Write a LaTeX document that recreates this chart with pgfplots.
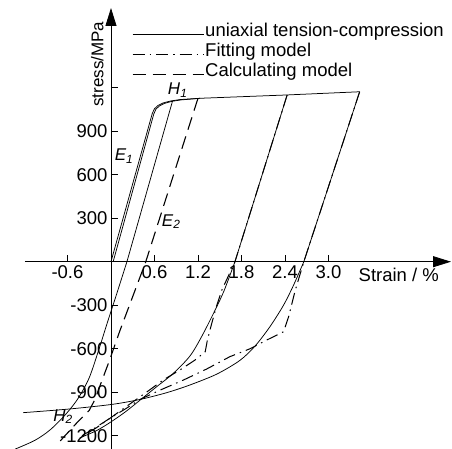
\documentclass[border=0pt]{standalone}
\usepackage{fontspec}
\setmainfont{Liberation Sans}
\usepackage{pgfplots}
\pgfplotsset{compat=1.18}
\usetikzlibrary{arrows.meta}
\newcommand\fs{\fontsize{18.5}{22}\selectfont}
\newcommand\fl{\fontsize{17}{20}\selectfont}
\begin{document}
\begin{tikzpicture}
\begin{axis}[
  scale only axis, width=426pt, height=441pt,
  xmin=-1.186, xmax=4.690, ymin=-1291.7, ymax=1749.7,
  axis lines=middle,
  axis line style={line width=0.8pt, -{Triangle[length=18pt,width=11pt]}},
  clip=false,
  xtick={-0.6,0.6,1.2,1.8,2.4,3.0},
  xticklabels={-0.6,0.6,1.2,1.8,2.4,3.0},
  ytick={-1200,-900,-600,-300,300,600,900,1200},
  yticklabels={-1200,-900,-600,-300,300,600,900,{}},
  tick align=inside, major tick length=7pt,
  tick style={black, line width=0.8pt},
  ticklabel style={font=\fs},
  legend style={draw=none, fill=none, at={(0.251,0.969)}, anchor=north west,
    font=\fs, row sep=3pt, inner sep=0pt, nodes={inner sep=1pt}},
  legend cell align=left,
  legend image code/.code={\path (0pt,-7pt) (0pt,7pt); \draw[#1] (0pt,-4.5pt) -- (71pt,-4.5pt);},
  sol/.style={black, line width=0.75pt, solid},
  fit/.style={black, line width=1.0pt, dash pattern=on 12pt off 5pt on 1.5pt off 5pt},
  calc/.style={black, line width=1.1pt, dash pattern=on 13pt off 7pt},
]
\addlegendimage{sol}
\addlegendentry{uniaxial tension-compression}
\addlegendimage{fit}
\addlegendentry{Fitting model}
\addlegendimage{calc}
\addlegendentry{Calculating model}

% uniaxial tension-compression
\addplot[sol, forget plot] coordinates {(0,0) (0.57,1023) (0.60,1055) (0.65,1078) (0.72,1095) (0.82,1108) (0.95,1118) (1.23,1127) (2.43,1150) (3.43,1172)};
\addplot[sol, forget plot] coordinates {(0.85,1110) (0.22,0)};
\addplot[sol, smooth, forget plot] coordinates {(0.22,0) (0.08,-220) (-0.05,-420) (-0.17,-610) (-0.30,-800) (-0.45,-940) (-0.62,-1050) (-0.84,-1160) (-1.05,-1232) (-1.32,-1292)};
\addplot[sol, forget plot] coordinates {(2.43,1150) (1.71,0)};
\addplot[sol, smooth, forget plot] coordinates {(1.71,0) (1.56,-200) (1.43,-340) (1.25,-517) (1.09,-650) (0.86,-770) (0.63,-862) (0.40,-955) (0.20,-1035) (-0.01,-1108) (-0.2,-1165) (-0.43,-1215)};
\addplot[sol, forget plot] coordinates {(3.43,1172) (2.66,0)};
\addplot[sol, smooth, forget plot] coordinates {(2.66,0) (2.52,-160) (2.38,-300) (2.19,-450) (1.99,-580) (1.78,-680) (1.46,-775) (1.09,-850) (0.77,-903) (0.40,-950) (0.0,-985) (-0.6,-1017) (-1.21,-1041)};

% fitting model
\addplot[sol, forget plot] coordinates {(0.03,0) (0.59,1018) (0.62,1052) (0.67,1075) (0.74,1092) (0.84,1106) (0.97,1116) (1.23,1127)};
\addplot[fit, forget plot] coordinates {(2.43,1150) (1.71,0) (1.53,-195) (1.46,-300) (1.39,-425) (1.33,-540) (1.30,-621) (1.16,-678) (0.95,-747) (0.72,-816) (0.49,-900) (0.25,-985) (0.0,-1075) (-0.2,-1145) (-0.40,-1205)};
\addplot[fit, forget plot] coordinates {(3.43,1172) (2.66,0) (2.54,-200) (2.45,-380) (2.38,-483) (2.15,-540) (1.92,-600) (1.64,-655) (1.32,-740) (1.0,-816) (0.68,-885) (0.40,-950) (0.2,-1015) (0.0,-1075) (-0.2,-1140) (-0.40,-1200)};

% calculating model
\addplot[calc, forget plot] coordinates {(1.20,1127) (0.48,0) (0.30,-240) (0.12,-480) (-0.02,-680) (-0.14,-840) (-0.22,-950) (-0.30,-1025) (-0.45,-1100) (-0.70,-1236)};

\node[font=\fl\itshape] at (axis cs:0.18,729) {E\textsubscript{1}};
\node[font=\fl\itshape] at (axis cs:0.83,276) {E\textsubscript{2}};
\node[font=\fl\itshape] at (axis cs:0.92,1184) {H\textsubscript{1}};
\node[font=\fl\itshape] at (axis cs:-0.66,-1070) {H\textsubscript{2}};
\node[font=\fs, anchor=base] at (axis cs:3.97,-140) {Strain / \%};
\node[font=\fl, rotate=90] at (axis cs:-0.19,1362) {stress/MPa};
\end{axis}
\pgfresetboundingbox
\path[use as bounding box] (-25pt,0pt) rectangle (427pt,449pt);
\end{tikzpicture}
\end{document}
